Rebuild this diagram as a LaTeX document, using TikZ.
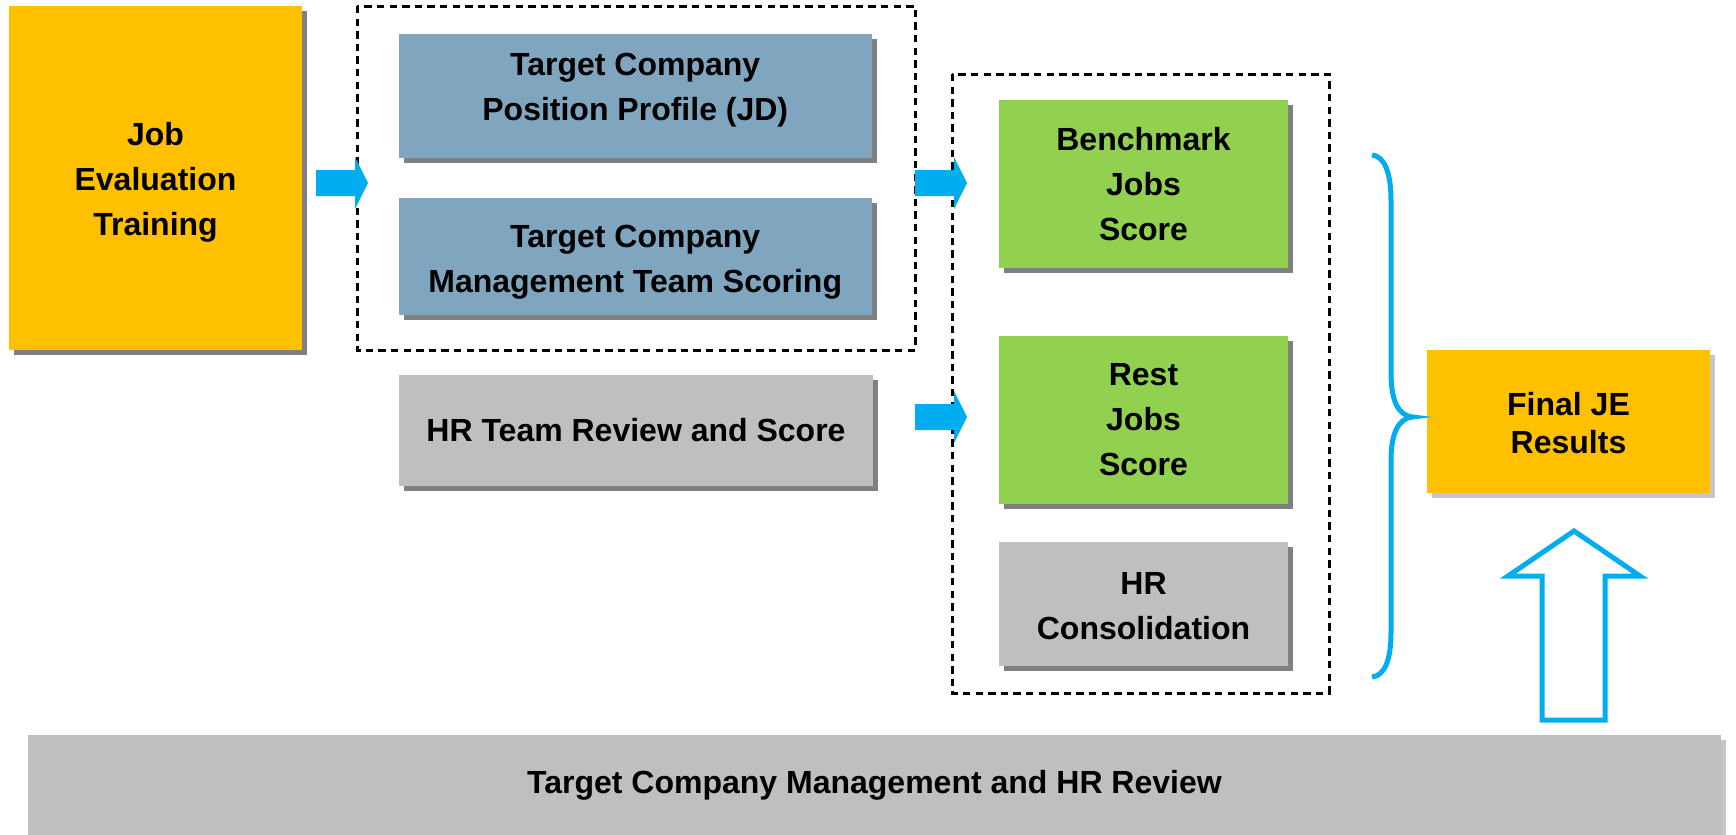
\documentclass[tikz,border=0pt]{standalone}
\usepackage{fontspec}
\setmainfont{Liberation Sans}
\usetikzlibrary{shadows}
\definecolor{jeyellow}{HTML}{FFC000}
\definecolor{jeblue}{HTML}{7FA6BE}
\definecolor{jegreen}{HTML}{92D050}
\definecolor{jegray}{HTML}{BFBFBF}
\definecolor{shadowdark}{HTML}{808080}
\definecolor{shadowlight}{HTML}{C6C6C6}
\definecolor{arrowblue}{HTML}{00AEEF}
\begin{document}
\begin{tikzpicture}[x=0.5pt,y=-0.5pt,
  boxtext/.style={inner sep=0pt, align=center, font=\bfseries\fontsize{16}{22.5}\selectfont},
  box/.style={boxtext},
  % box whose text sits a little off the vertical centre
  textat/.style 2 args={label={[boxtext, yshift=#1]center:{#2}}},
  darkshadow/.style={drop shadow={shadow xshift=2.5pt, shadow yshift=-2.5pt, fill=shadowdark, opacity=1}},
  lightshadow/.style={drop shadow={shadow xshift=2.5pt, shadow yshift=-2.5pt, fill=shadowlight, opacity=1}},
  group/.style={draw=black, line width=1.5pt, dash pattern=on 3.7pt off 2.6pt},
  fatarrow/.pic={\fill[arrowblue] (0,-13) -- (39,-13) -- (39,-26) -- (52,0) -- (39,26) -- (39,13) -- (0,13) -- cycle;},
  brace/.style={draw=arrowblue, line width=2.5pt}
]
\useasboundingbox (0,0) rectangle (1736,835);

% input stage
\node[box, darkshadow, fill=jeyellow, minimum width=146.5pt, minimum height=172pt,
  textat={-2pt}{Job\\Evaluation\\Training}] (job) at (155.5,178) {};

% target company work and HR scoring
\draw[group] (357,6) rectangle (915,350);
\node[box, darkshadow, fill=jeblue, minimum width=236.5pt, minimum height=62pt,
  textat={2.8pt}{Target Company\\Position Profile (JD)}] (jd) at (635.25,96) {};
\node[box, darkshadow, fill=jeblue, minimum width=236.5pt, minimum height=58.5pt,
  textat={-3pt}{Target Company\\Management Team Scoring}] (mgmt) at (635.25,256.5) {};
\node[box, darkshadow, fill=jegray, minimum width=237pt, minimum height=55.5pt] (hrteam) at (636,430.5) {HR Team Review and Score};

% scoring results
\draw[group] (952,74) rectangle (1329,693);
\node[box, darkshadow, fill=jegreen, minimum width=144.5pt, minimum height=84pt] (bench) at (1143.5,184) {Benchmark\\Jobs\\Score};
\node[box, darkshadow, fill=jegreen, minimum width=144.5pt, minimum height=84pt] (rest) at (1143.5,420) {Rest\\Jobs\\Score};
\node[box, darkshadow, fill=jegray, minimum width=144.5pt, minimum height=62pt,
  textat={-1pt}{HR\\Consolidation}] (cons) at (1143.5,604) {};

% final result
\node[box, lightshadow, fill=jeyellow, minimum width=141.5pt, minimum height=71.5pt,
  label={[boxtext, font=\bfseries\fontsize{16}{19}\selectfont, yshift=-1pt]center:{Final JE\\Results}}] (final) at (1568.5,421.5) {};

% review bar
\node[box, lightshadow, fill=jegray, minimum width=846.5pt, minimum height=50pt] (review) at (874.5,785) {Target Company Management and HR Review};

% flow arrows
\pic at (316,183) {fatarrow};
\pic at (915,183) {fatarrow};
\pic at (915,417) {fatarrow};

% brace gathering the scores
\draw[brace] (1372,155) .. controls (1384,156) and (1391,172) .. (1391,200)
  -- (1391,373) .. controls (1391,400) and (1398,416) .. (1413,417)
  .. controls (1398,418) and (1391,434) .. (1391,461)
  -- (1391,633) .. controls (1391,661) and (1384,676) .. (1372,677);

% hollow arrow from review bar up to the results
\draw[draw=arrowblue, fill=white, line width=2.5pt, line join=miter]
  (1542,720) -- (1542,576) -- (1508,576) -- (1574,531) -- (1640,576)
  -- (1605,576) -- (1605,720) -- cycle;
\end{tikzpicture}
\end{document}
